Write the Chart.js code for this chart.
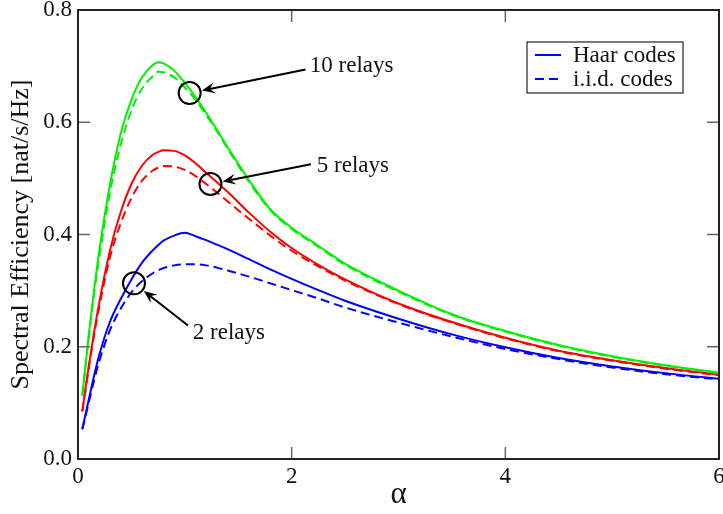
<!DOCTYPE html>
<html>
<head>
<meta charset="utf-8">
<script src="https://cdn.jsdelivr.net/npm/chart.js@4.4.1/dist/chart.umd.min.js"></script>
<style>
  html, body { margin: 0; padding: 0; background: #fff; }
  #wrap { width: 723px; height: 514px; position: relative; }
</style>
</head>
<body>
<div id="wrap"><canvas id="chart"></canvas></div>
<script>
// alpha grid shared by every curve
const alpha = [0.04, 0.1, 0.15, 0.2, 0.3, 0.4, 0.5, 0.6, 0.7, 0.75, 0.8, 0.9, 1.0, 1.1, 1.2, 1.3, 1.4,
               1.6, 1.8, 2.0, 2.25, 2.5, 3.0, 3.5, 4.0, 4.5, 5.0, 5.5, 6.0]

// spectral efficiency [nat/s/Hz]
const haar10 = [0.113, 0.22, 0.30, 0.372, 0.49, 0.58, 0.64, 0.68, 0.702, 0.707, 0.705, 0.692, 0.670, 0.645, 0.617, 0.587, 0.556,
                0.497, 0.445, 0.412, 0.380, 0.348, 0.300, 0.258, 0.228, 0.203, 0.183, 0.167, 0.154]
const iid10  = [0.113, 0.215, 0.293, 0.36, 0.475, 0.56, 0.621, 0.66, 0.682, 0.690, 0.689, 0.680, 0.662, 0.640, 0.613, 0.584, 0.553,
                0.494, 0.443, 0.410, 0.378, 0.346, 0.298, 0.257, 0.227, 0.202, 0.182, 0.166, 0.153]
const haar5  = [0.085, 0.165, 0.225, 0.28, 0.372, 0.44, 0.49, 0.523, 0.542, 0.547, 0.55, 0.549, 0.541, 0.527, 0.510, 0.493, 0.476,
                0.439, 0.405, 0.376, 0.346, 0.320, 0.277, 0.244, 0.216, 0.193, 0.176, 0.162, 0.150]
const iid5   = [0.085, 0.16, 0.22, 0.272, 0.36, 0.42, 0.465, 0.496, 0.514, 0.519, 0.522, 0.521, 0.515, 0.504, 0.490, 0.475, 0.459,
                0.428, 0.398, 0.371, 0.343, 0.318, 0.276, 0.243, 0.215, 0.192, 0.175, 0.161, 0.149]
const haar2  = [0.053, 0.105, 0.148, 0.186, 0.245, 0.285, 0.32, 0.35, 0.372, 0.381, 0.389, 0.398, 0.403, 0.397, 0.390, 0.382, 0.374,
                0.356, 0.338, 0.321, 0.301, 0.282, 0.250, 0.222, 0.199, 0.180, 0.165, 0.153, 0.143]
const iid2   = [0.053, 0.10, 0.14, 0.175, 0.23, 0.268, 0.297, 0.317, 0.331, 0.336, 0.34, 0.345, 0.347, 0.347, 0.345, 0.341, 0.336,
                0.325, 0.313, 0.301, 0.286, 0.270, 0.243, 0.218, 0.196, 0.178, 0.163, 0.151, 0.142]

const xTicks = [0, 2, 4, 6]
const yTicks = [0.0, 0.2, 0.4, 0.6, 0.8]
const legendNames = ['Haar codes', 'i.i.d. codes']

// callouts: circle centre (alpha, value), label anchor, arrow tail
const callouts = [
    {text: '10 relays', at: [1.045, 0.652], label: [2.17, 0.702], tail: [2.13, 0.694]},
    {text: '5 relays',  at: [1.24, 0.490],  label: [2.235, 0.5235], tail: [2.18, 0.525]},
    {text: '2 relays',  at: [0.524, 0.313], label: [1.075, 0.2258], tail: [1.03, 0.238]}
]

const toPoints = ys => ys.map((v, i) => ({x: alpha[i], y: v}))
const dash = [9, 5]

const series = (label, ys, color, dashed) => ({
    label: label,
    data: toPoints(ys),
    borderColor: color,
    borderWidth: 2,
    borderDash: dashed ? dash : [],
    pointRadius: 0,
    fill: false,
    cubicInterpolationMode: 'monotone'
})

const serif = 'Liberation Serif'
Chart.defaults.font.family = serif
Chart.defaults.color = '#111'

function arrow(ctx, x0, y0, x1, y1) {
    const ang = Math.atan2(y1 - y0, x1 - x0)
    const len = 13, wid = 5.5, notch = 8
    const c = Math.cos(ang), s = Math.sin(ang)
    ctx.beginPath()
    ctx.moveTo(x0, y0)
    ctx.lineTo(x1 - c * notch, y1 - s * notch)
    ctx.stroke()
    ctx.beginPath()
    ctx.moveTo(x1, y1)
    ctx.lineTo(x1 - c * len - s * wid, y1 - s * len + c * wid)
    ctx.lineTo(x1 - c * notch, y1 - s * notch)
    ctx.lineTo(x1 - c * len + s * wid, y1 - s * len - c * wid)
    ctx.closePath()
    ctx.fill()
}

// frame, inward ticks on all sides, legend box and relay callouts
const decorations = {
    id: 'decorations',
    afterDatasetsDraw(chart) {
        const {ctx, chartArea: a, scales: {x, y}} = chart
        ctx.save()

        ctx.strokeStyle = '#666'
        ctx.lineWidth = 1.5
        const tl = 12
        xTicks.slice(1, -1).forEach(v => {
            const px = x.getPixelForValue(v)
            ctx.beginPath()
            ctx.moveTo(px, a.bottom); ctx.lineTo(px, a.bottom - tl)
            ctx.moveTo(px, a.top); ctx.lineTo(px, a.top + tl)
            ctx.stroke()
        })
        yTicks.slice(1, -1).forEach(v => {
            const py = y.getPixelForValue(v)
            ctx.beginPath()
            ctx.moveTo(a.left, py); ctx.lineTo(a.left + tl, py)
            ctx.moveTo(a.right, py); ctx.lineTo(a.right - tl, py)
            ctx.stroke()
        })

        ctx.strokeStyle = '#222'
        ctx.lineWidth = 2
        ctx.strokeRect(a.left, a.top, a.right - a.left, a.bottom - a.top)

        // legend
        const bx = a.right - 192, by = a.top + 32, bw = 156, bh = 51
        ctx.lineWidth = 1.2
        ctx.strokeStyle = '#222'
        ctx.strokeRect(bx, by, bw, bh)
        ctx.font = '23px ' + serif
        ctx.fillStyle = '#111'
        ctx.textBaseline = 'middle'
        ctx.textAlign = 'left'
        const legendSets = [chart.data.datasets[4], chart.data.datasets[5]]
        legendSets.forEach((ds, i) => {
            const ly = by + 13 + i * 24
            ctx.strokeStyle = ds.borderColor
            ctx.lineWidth = 2
            ctx.setLineDash(ds.borderDash)
            ctx.beginPath()
            ctx.moveTo(bx + 8, ly); ctx.lineTo(bx + 34, ly)
            ctx.stroke()
            ctx.setLineDash([])
            ctx.fillText(legendNames[i], bx + 46, ly + 1)
        })

        // callouts
        ctx.strokeStyle = '#000'
        ctx.fillStyle = '#000'
        ctx.lineWidth = 2
        callouts.forEach(c => {
            const cx = x.getPixelForValue(c.at[0]), cy = y.getPixelForValue(c.at[1])
            ctx.beginPath()
            ctx.arc(cx, cy, 11, 0, Math.PI * 2)
            ctx.stroke()
            const tx = x.getPixelForValue(c.tail[0]), ty = y.getPixelForValue(c.tail[1])
            const ang = Math.atan2(ty - cy, tx - cx)
            arrow(ctx, tx, ty, cx + Math.cos(ang) * 12.5, cy + Math.sin(ang) * 12.5)
            ctx.fillStyle = '#111'
            ctx.fillText(c.text, x.getPixelForValue(c.label[0]), y.getPixelForValue(c.label[1]) + 1)
            ctx.fillStyle = '#000'
        })
        ctx.restore()
    }
}

new Chart(document.getElementById('chart'), {
    type: 'line',
    data: {
        datasets: [
            series('10 relays, Haar', haar10, '#00f000', false),
            series('10 relays, i.i.d.', iid10, '#00f000', true),
            series('5 relays, Haar', haar5, '#ff0000', false),
            series('5 relays, i.i.d.', iid5, '#ff0000', true),
            series('2 relays, Haar', haar2, '#0000ff', false),
            series('2 relays, i.i.d.', iid2, '#0000ff', true)
        ]
    },
    options: {
        responsive: true,
        maintainAspectRatio: false,
        animation: false,
        layout: {padding: {top: 10, right: 4, left: 0, bottom: 0}},
        plugins: {legend: {display: false}, tooltip: {enabled: false}},
        scales: {
            x: {
                type: 'linear',
                min: 0, max: 6,
                afterBuildTicks: s => { s.ticks = xTicks.map(v => ({value: v})) },
                grid: {display: false, drawTicks: false},
                border: {display: false},
                ticks: {font: {size: 23}, padding: 4, maxRotation: 0, callback: v => String(v)},
                title: {display: true, text: 'α', font: {size: 31}, padding: {top: 0, bottom: 1}},
                afterFit: s => { s.height = 55; s.paddingLeft = 0; s.paddingRight = 0 }
            },
            y: {
                min: 0, max: 0.8,
                afterBuildTicks: s => { s.ticks = yTicks.map(v => ({value: v})) },
                grid: {display: false, drawTicks: false},
                border: {display: false},
                ticks: {font: {size: 23}, padding: 6, callback: v => v.toFixed(1)},
                title: {display: true, text: 'Spectral Efficiency [nat/s/Hz]', font: {size: 26}, padding: {top: 6, bottom: 0}},
                afterFit: s => { s.width = 78; s.paddingTop = 0; s.paddingBottom = 0 }
            }
        }
    },
    plugins: [decorations]
})
</script>
</body>
</html>
